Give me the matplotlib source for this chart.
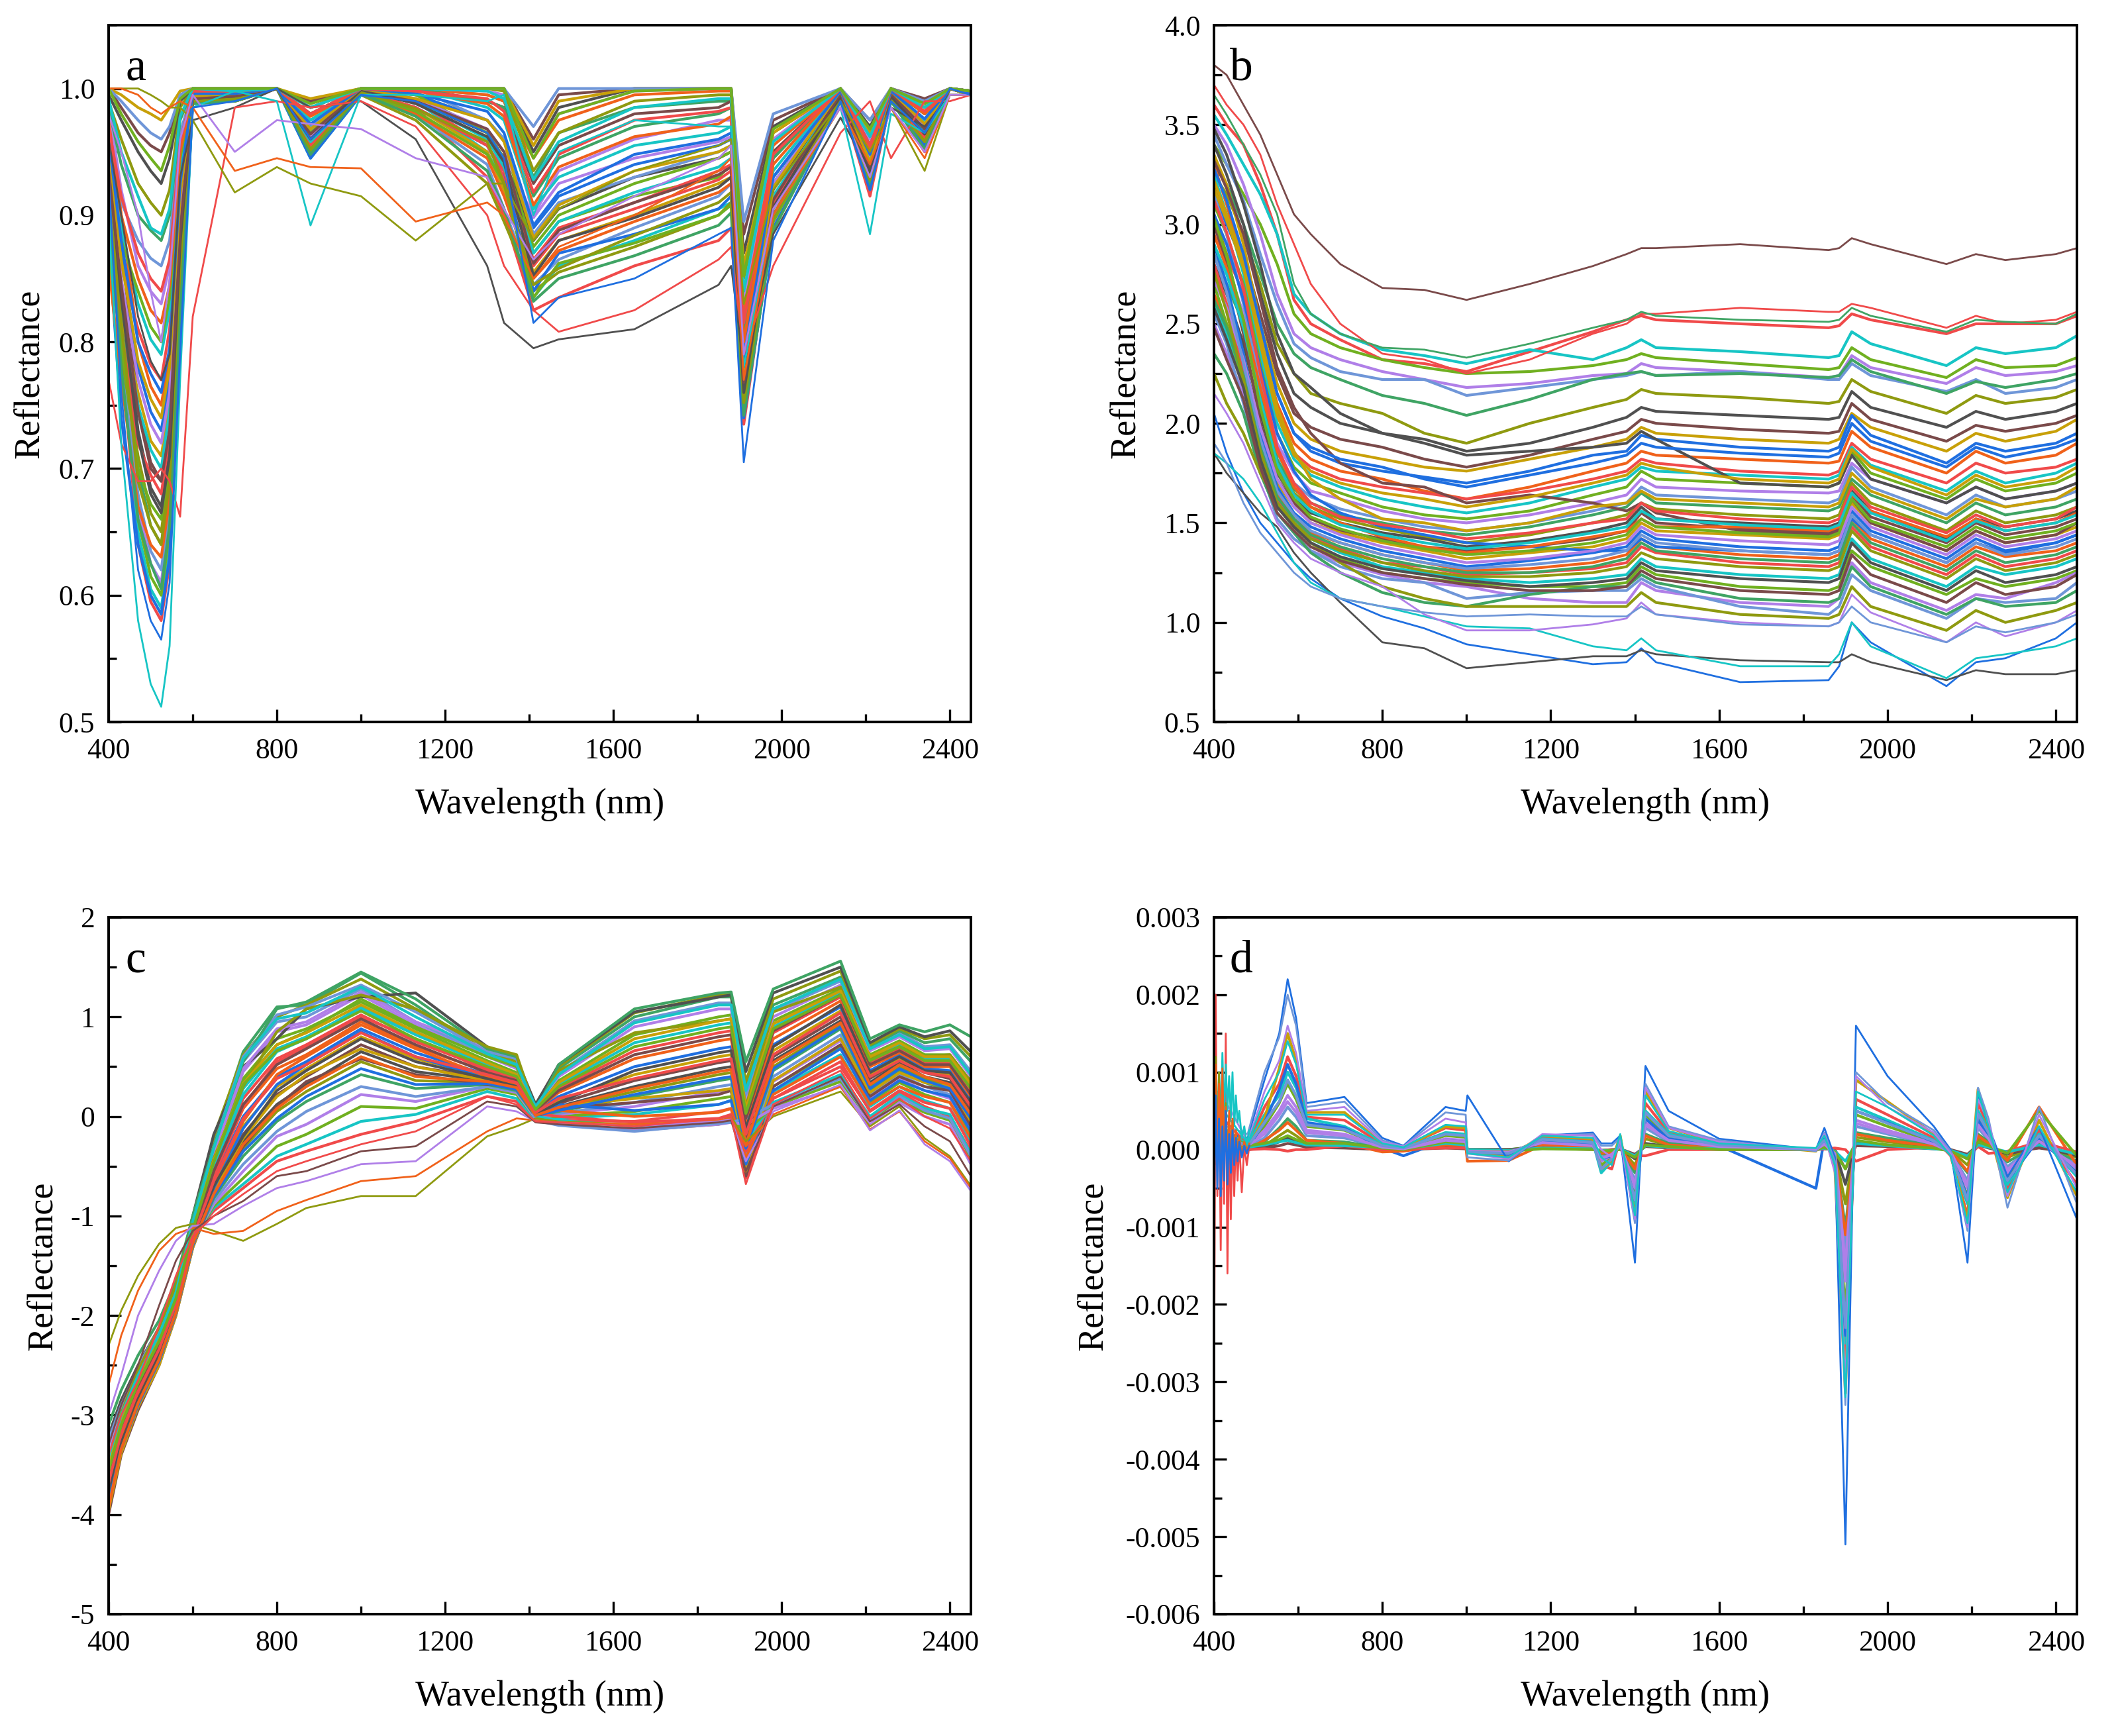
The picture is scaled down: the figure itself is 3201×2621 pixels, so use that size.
import matplotlib
matplotlib.use("Agg")
import matplotlib.pyplot as plt
import numpy as np
from matplotlib.ticker import MultipleLocator, FormatStrFormatter

plt.rcParams['font.family'] = ['Liberation Serif', 'DejaVu Serif']
plt.rcParams['axes.unicode_minus'] = False

colors = ['#505050', '#f04a4a', '#3fa464', '#1f6fe0', '#b07fe8', '#7a4a4a',
          '#17c5c5', '#8f9a10', '#f0611a', '#6f96d8', '#c8a008', '#70b020']

# panel a, reflectance x1000
wl_a = [400,430,470,500,525,545,570,600,700,800,880,1000,1130,1300,1340,1410,1470,1650,1850,1880,1910,1980,2140,2210,2260,2340,2400,2450]
refl_a = [
[960,900,820,785,770,790,930,975,985,1000,985,990,960,860,815,795,802,810,845,860,780,885,977,935,985,970,995,995],
[770,720,690,690,700,690,662,820,985,990,985,990,970,900,860,825,808,825,865,875,790,860,965,990,945,990,990,995],
[900,720,580,530,512,560,770,985,998,990,892,995,995,990,995,900,950,975,970,970,780,900,985,885,980,965,995,995],
[1000,1000,1000,995,990,985,985,975,918,938,925,915,880,925,925,880,905,935,955,960,830,920,990,950,985,935,995,995],
[1000,1000,995,985,980,985,990,985,935,945,938,937,895,910,900,850,875,900,935,945,770,900,985,940,985,945,995,995],
[980,950,900,840,800,850,960,995,950,975,972,968,945,930,905,865,885,915,945,955,790,905,985,930,985,950,995,995],
[930,760,620,580,565,610,790,985,990,1000,960,995,990,965,945,815,835,850,885,890,705,880,990,920,990,965,1000,995],
[950,790,640,595,580,625,800,990,992,1000,950,998,985,930,900,825,835,860,880,890,735,895,992,915,992,950,1000,995],
[920,800,650,605,590,635,815,990,990,1000,945,995,990,950,925,835,860,880,905,910,750,900,995,930,995,960,1000,995],
[940,810,660,615,600,650,825,992,995,1000,960,1000,995,975,960,870,895,915,930,940,770,925,998,940,998,970,1000,998],
[970,830,670,625,610,660,835,995,995,1000,970,1000,1000,990,985,900,935,960,975,975,790,930,1000,950,1000,975,1000,998],
[900,780,680,635,620,670,845,990,990,1000,955,998,980,940,905,845,865,890,915,925,760,905,995,935,995,965,1000,996],
[960,840,700,655,640,690,860,995,995,1000,975,1000,1000,995,990,930,965,985,990,990,800,945,1000,955,1000,980,1000,998],
[910,790,710,665,650,700,870,990,990,1000,950,995,975,925,895,840,855,875,900,910,745,900,992,925,992,955,1000,995],
[950,850,730,685,670,715,880,992,995,1000,965,1000,990,965,945,880,905,930,945,950,780,920,998,945,998,970,1000,998],
[980,880,750,705,690,735,895,995,995,1000,980,1000,1000,990,985,925,955,980,985,990,810,950,1000,955,1000,980,1000,998],
[920,820,760,722,710,750,900,990,990,1000,955,998,985,950,920,855,880,900,925,930,765,910,995,935,995,960,1000,996],
[960,870,780,745,730,770,910,995,995,1000,970,1000,995,975,960,890,915,940,955,960,785,930,998,945,998,975,1000,998],
[990,900,800,765,750,790,920,995,998,1000,985,1000,1000,995,990,945,975,995,998,998,825,955,1000,960,1000,985,1000,998],
[940,860,810,782,770,810,930,995,995,1000,960,1000,990,955,930,865,890,910,935,940,770,915,995,940,995,965,1000,996],
[970,890,830,802,790,825,940,998,998,1000,975,1000,1000,985,975,905,930,955,965,970,795,935,1000,950,1000,975,1000,998],
[950,880,840,812,800,835,945,998,995,1000,965,1000,995,965,945,875,900,925,945,950,780,925,998,945,998,970,1000,998],
[985,920,860,840,830,860,955,998,998,1000,985,1000,1000,998,995,950,980,998,1000,1000,835,960,1000,960,1000,985,1000,998],
[965,910,880,866,860,880,965,998,998,1000,970,1000,1000,975,960,885,910,930,950,955,785,925,998,945,998,972,1000,998],
[985,940,900,888,880,900,975,1000,998,1000,980,1000,1000,990,985,915,945,970,980,985,810,945,1000,955,1000,980,1000,998],
[990,960,925,910,900,920,985,1000,998,1000,985,1000,1000,1000,998,935,965,990,995,995,850,965,1000,965,1000,985,1000,998],
[995,975,950,935,925,945,990,1000,1000,1000,990,1000,1000,1000,1000,950,985,1000,1000,1000,870,970,1000,970,1000,990,1000,998],
[1000,985,965,955,950,965,995,1000,1000,1000,990,1000,1000,1000,1000,960,995,1000,1000,1000,885,975,1000,975,1000,992,1000,998],
[1000,995,985,980,975,985,998,1000,1000,1000,992,1000,1000,1000,1000,955,990,1000,1000,1000,860,965,1000,965,1000,985,1000,998],
[880,740,640,600,585,630,805,988,990,1000,945,995,985,955,935,840,870,885,905,915,740,890,990,920,990,955,1000,995],
[860,770,670,640,630,675,850,990,990,1000,950,996,980,945,915,850,872,895,918,925,755,900,992,930,992,960,1000,995],
[890,810,720,695,680,725,885,990,992,1000,955,998,985,955,935,860,885,905,928,935,765,908,994,935,994,962,1000,995],
[900,830,750,715,700,745,895,992,992,1000,958,998,990,960,938,870,895,918,938,945,772,915,996,940,996,966,1000,996],
[870,800,700,672,660,705,875,990,990,1000,950,996,982,948,925,835,862,878,900,908,748,895,990,925,990,958,1000,995],
[930,850,770,735,720,760,905,992,995,1000,962,1000,992,968,950,898,925,945,958,962,775,925,997,945,997,970,1000,997],
[1000,990,975,965,960,970,995,1000,1000,1000,985,1000,1000,1000,1000,970,1000,1000,1000,1000,895,980,1000,975,1000,990,1000,998],
[910,780,660,625,605,655,830,988,990,1000,948,996,978,935,905,832,850,868,892,902,742,888,990,922,990,952,1000,995],
[925,815,690,655,640,690,860,990,992,1000,952,997,984,958,925,845,858,884,910,918,752,898,992,928,992,958,1000,995],
[945,835,725,680,665,710,878,992,994,1000,960,999,988,962,942,852,880,898,922,930,760,906,994,934,994,964,1000,996],
[935,845,745,700,690,730,888,992,994,1000,964,1000,990,968,950,862,888,910,932,938,768,912,996,938,996,968,1000,996],
[955,865,785,755,740,780,915,994,996,1000,968,1000,992,975,958,882,908,935,950,955,778,922,998,942,998,972,1000,997],
[960,880,800,775,760,795,925,996,996,1000,972,1000,996,982,965,892,918,948,960,965,788,930,998,948,998,976,1000,997],
[975,900,850,825,815,845,950,998,998,1000,978,1000,998,988,978,908,938,962,972,978,800,940,1000,952,1000,980,1000,998],
[970,915,870,850,840,865,958,998,998,1000,980,1000,998,992,982,918,948,975,982,985,815,948,1000,955,1000,982,1000,998],
[992,950,915,890,885,905,978,1000,998,1000,985,1000,1000,998,992,928,958,985,992,992,840,958,1000,962,1000,985,1000,998],
[1000,980,958,945,935,955,992,1000,1000,1000,988,1000,1000,1000,1000,945,980,998,1000,1000,852,968,1000,968,1000,988,1000,998],
]

# panel b, x100
wl_b = [400,430,470,510,550,590,630,700,800,900,1000,1150,1300,1380,1415,1450,1650,1860,1885,1915,1960,2140,2210,2280,2400,2450]
refl_b = [
[380,375,360,345,325,305,295,280,268,267,262,270,279,285,288,288,290,287,288,293,290,280,285,282,285,288],
[370,360,350,335,310,290,270,250,235,232,225,232,245,250,255,255,258,256,256,260,258,248,254,250,252,256],
[365,355,340,325,305,270,255,245,238,237,233,240,248,252,256,254,252,251,252,258,254,246,252,251,250,255],
[205,185,165,150,140,130,122,112,103,97,89,84,79,80,87,80,70,71,78,100,90,68,80,82,92,100],
[185,175,165,155,148,135,125,110,90,87,77,80,83,83,86,84,81,80,80,84,80,71,76,74,74,76],
[185,180,172,160,145,130,120,112,108,103,98,97,88,86,92,86,78,78,84,100,88,72,82,84,88,92],
[215,205,190,170,150,140,132,125,118,104,96,96,99,102,110,104,100,98,100,114,105,90,100,93,100,106],
[190,180,160,145,135,125,118,112,108,105,103,104,103,103,108,104,99,98,100,108,100,90,98,95,100,104],
[360,350,340,320,295,262,250,242,232,230,226,236,246,252,254,252,250,248,249,255,252,245,250,250,250,254],
[355,345,330,315,295,265,255,245,237,234,230,237,232,238,242,238,236,233,234,246,240,229,238,235,238,244],
[340,330,315,300,280,255,245,238,232,228,225,226,229,232,235,233,230,227,228,238,232,223,232,228,229,233],
[350,340,320,295,265,245,238,232,226,222,218,220,224,225,230,228,226,223,224,234,228,220,228,224,226,229],
[345,330,312,285,260,240,233,226,222,222,214,218,222,224,226,224,226,222,222,230,224,216,222,215,218,222],
[330,320,300,275,250,235,228,222,214,210,204,212,222,225,226,224,225,223,224,232,226,215,221,218,222,225],
[325,315,295,270,240,225,215,210,205,195,190,200,208,212,217,215,213,210,211,222,216,205,214,210,213,217],
[340,325,300,265,235,215,208,200,195,192,186,190,198,203,208,206,204,202,203,216,208,198,206,202,206,210],
[320,305,285,255,225,205,198,192,188,182,178,184,192,196,202,200,197,195,196,210,202,191,199,196,200,204],
[335,320,290,250,220,200,192,186,182,178,176,182,188,192,198,195,192,190,192,205,198,186,195,191,196,202],
[315,300,280,245,215,195,186,180,176,173,170,176,184,186,194,192,188,186,188,204,194,180,190,186,190,195],
[330,310,280,240,210,190,182,176,172,166,162,168,176,180,186,184,182,180,181,196,188,175,186,180,184,190],
[300,285,265,235,205,185,178,172,168,165,162,166,172,176,182,180,176,174,176,190,182,170,180,175,178,182],
[325,305,275,235,200,182,174,168,162,158,155,160,168,172,178,176,174,172,174,188,179,166,176,170,175,180],
[310,295,270,230,195,178,170,165,158,154,152,156,164,168,176,172,170,168,170,186,175,162,172,166,170,175],
[295,280,255,225,190,175,166,162,156,152,150,154,160,164,172,168,166,165,166,180,172,160,168,162,166,170],
[315,295,260,220,185,170,163,157,152,148,146,150,156,160,168,164,162,160,162,178,168,154,164,158,162,166],
[285,270,250,215,182,167,160,154,150,146,144,148,154,158,165,160,158,156,158,172,164,150,160,154,158,162],
[305,285,250,210,178,165,158,152,147,143,140,144,150,154,160,157,154,152,154,170,160,146,156,150,154,158],
[280,265,240,205,175,162,155,150,145,142,138,141,146,150,158,152,150,148,150,166,156,142,152,148,152,156],
[300,280,245,200,172,160,152,146,142,138,136,138,142,146,155,150,147,145,147,164,153,140,150,144,148,152],
[275,260,235,195,170,158,150,145,140,136,132,135,138,142,150,146,144,142,144,160,150,136,146,140,144,148],
[290,270,235,195,168,155,148,142,136,132,128,131,135,138,146,142,138,136,138,156,146,132,142,136,140,144],
[265,250,225,190,165,152,145,140,134,130,126,127,130,134,142,138,134,132,134,152,142,128,138,133,136,140],
[280,260,225,188,162,150,143,137,130,128,124,125,127,130,138,135,130,128,130,148,138,124,134,128,132,136],
[260,245,220,185,160,150,142,135,128,125,122,120,122,124,132,128,124,122,124,142,132,118,128,124,128,132],
[270,250,220,180,158,148,140,132,125,122,120,118,118,120,128,124,118,116,118,136,128,114,122,118,122,126],
[250,235,215,175,155,145,136,130,124,120,118,112,110,110,120,116,110,108,112,130,120,106,114,112,120,125],
[255,240,210,178,152,142,136,128,122,120,112,115,116,116,122,118,108,104,108,124,116,102,112,110,112,120],
[235,225,205,175,155,145,135,125,115,110,108,114,118,118,124,120,112,110,112,128,118,104,112,108,110,116],
[225,210,195,175,160,150,140,130,118,112,108,108,108,108,115,110,104,102,104,118,108,96,106,100,106,110],
[348,335,310,280,245,225,218,205,195,190,184,186,188,190,196,192,170,168,170,184,172,160,168,162,166,170],
[332,318,295,262,228,208,195,180,170,168,160,164,160,156,160,155,146,144,146,162,150,136,146,140,144,150],
[322,305,282,245,208,186,172,162,152,150,146,150,158,160,166,162,160,158,160,175,166,152,162,158,162,168],
[305,290,262,228,195,176,164,155,148,144,140,138,136,136,142,138,136,134,136,152,144,130,140,135,140,144],
[295,278,252,218,186,168,158,150,143,138,135,138,143,146,152,148,148,146,148,164,156,143,152,146,150,155],
[312,296,268,225,188,170,160,153,149,146,142,145,150,152,160,156,152,150,152,168,158,145,154,148,152,158],
[290,275,248,212,180,164,156,149,144,140,137,140,145,148,156,152,149,147,149,165,155,141,151,146,150,154],
[303,284,252,208,176,162,153,147,141,137,134,136,140,144,152,148,145,143,145,162,151,138,148,142,146,150],
[272,258,232,198,172,158,150,144,138,134,130,132,136,140,148,144,141,139,141,158,148,134,144,138,142,146],
[285,266,230,192,166,154,146,140,134,130,127,129,132,136,144,140,136,134,136,154,144,130,140,134,138,142],
[262,248,224,188,163,152,144,138,132,128,125,125,128,132,140,136,132,130,132,150,140,126,136,130,134,138],
[276,256,222,186,160,150,142,136,130,126,123,123,125,128,135,132,128,126,128,146,136,122,132,126,130,134],
[258,242,218,182,158,148,140,133,127,124,121,118,120,122,130,126,122,120,122,140,130,116,126,120,124,128],
[248,232,212,178,155,146,138,131,125,122,119,116,116,118,126,122,116,114,116,134,124,110,120,114,118,124],
[318,302,278,240,204,184,176,170,165,162,158,163,170,174,180,178,172,170,172,187,178,164,174,168,172,178],
[328,312,285,250,215,195,188,182,178,172,168,174,180,184,190,188,185,183,185,200,191,178,188,183,188,192],
]

# panel c, x100
wl_c = [400,430,470,520,560,600,650,720,800,870,1000,1130,1300,1370,1415,1470,1650,1850,1880,1915,1980,2140,2210,2280,2340,2400,2450]
refl_c = [
[-230,-195,-160,-128,-112,-108,-115,-125,-108,-92,-80,-80,-20,-10,-2,-5,-8,-5,0,-25,0,25,-10,10,-22,-40,-70],
[-270,-220,-175,-135,-118,-112,-118,-115,-95,-84,-65,-60,-15,-2,-4,-6,-8,-4,-2,-30,2,30,-13,5,-25,-42,-72],
[-300,-260,-200,-155,-125,-110,-108,-90,-72,-65,-48,-45,10,5,-5,-6,-10,-5,-3,-45,5,32,-14,6,-28,-45,-75],
[-330,-290,-250,-190,-145,-115,-100,-85,-60,-55,-35,-30,15,10,-6,-8,-12,-6,-4,-55,10,40,-5,12,-10,-25,-60],
[-340,-300,-265,-210,-160,-120,-100,-78,-55,-45,-28,-15,20,12,-5,-6,-10,-2,0,-68,12,46,-2,18,0,-12,-45],
[-350,-310,-275,-225,-170,-120,-95,-72,-45,-35,-18,-5,20,15,-4,-4,-5,5,8,-62,18,55,5,24,10,0,-35],
[-360,-315,-280,-235,-180,-122,-92,-68,-40,-28,-5,2,25,18,-3,-2,2,12,16,-58,25,62,10,30,16,8,-25],
[-370,-320,-285,-240,-185,-125,-90,-62,-30,-18,10,8,28,22,-2,0,5,18,20,-50,30,70,14,34,22,14,-18],
[-380,-325,-290,-245,-190,-125,-88,-55,-20,-8,22,15,30,24,-2,2,10,25,26,-45,35,76,18,38,26,18,-12],
[-385,-330,-290,-245,-195,-128,-85,-48,-15,5,30,20,30,25,-1,3,14,30,32,-40,40,82,22,42,30,22,-8],
[-390,-335,-290,-245,-195,-130,-82,-40,-5,15,42,28,32,26,0,5,20,36,38,-35,46,88,26,46,34,26,-4],
[-395,-335,-288,-245,-198,-130,-80,-32,5,25,55,36,34,28,0,8,25,42,44,-30,50,92,30,50,38,30,0],
[-390,-330,-285,-242,-198,-128,-76,-25,12,32,65,45,36,30,2,10,30,48,50,-25,56,96,34,54,40,34,4],
[-385,-330,-282,-240,-196,-128,-72,-18,22,40,72,50,38,32,3,13,36,54,56,-20,60,100,38,56,44,38,8],
[-380,-325,-280,-238,-195,-125,-68,-10,30,48,80,58,40,33,4,16,42,60,62,-16,66,106,42,58,46,42,12],
[-375,-320,-278,-236,-192,-122,-62,0,40,55,88,64,42,34,5,20,50,68,70,-10,72,110,46,62,48,46,16],
[-370,-320,-275,-232,-190,-120,-58,8,48,62,95,70,45,36,6,24,58,76,78,-5,78,116,50,64,50,50,20],
[-365,-315,-272,-230,-188,-118,-52,18,58,72,102,75,48,38,7,28,66,84,86,0,84,120,54,68,54,54,25],
[-360,-312,-270,-228,-185,-115,-48,28,68,80,108,82,52,40,8,32,74,92,94,5,90,124,58,72,58,58,30],
[-350,-308,-268,-225,-182,-112,-42,38,78,88,115,88,56,44,9,36,82,100,102,10,96,128,62,76,62,62,35],
[-345,-305,-265,-222,-180,-110,-38,45,85,92,122,92,60,48,10,40,90,108,108,16,100,132,66,80,66,68,40],
[-340,-300,-262,-220,-178,-108,-30,55,95,100,128,95,62,50,10,44,96,114,114,22,106,136,68,84,70,72,45],
[-335,-295,-258,-218,-175,-105,-25,65,110,112,144,112,64,52,10,48,100,120,120,30,112,140,70,86,74,78,55],
[-330,-290,-255,-215,-172,-102,-20,62,100,112,138,108,66,55,12,50,104,122,122,35,118,146,72,88,78,82,60],
[-320,-285,-250,-212,-170,-100,-18,50,78,108,120,124,70,58,12,52,105,120,122,45,124,150,74,90,80,86,65],
[-400,-340,-295,-250,-200,-132,-78,-30,10,35,58,42,32,30,0,8,14,22,26,-60,30,72,20,40,30,26,-10],
[-395,-338,-292,-250,-200,-132,-75,-22,20,42,68,50,36,30,1,10,18,26,28,-55,36,78,24,44,34,30,-5],
[-385,-332,-288,-246,-198,-130,-72,-12,32,52,85,60,38,32,3,12,6,12,16,-48,26,68,16,36,26,20,-15],
[-375,-325,-282,-240,-194,-125,-66,-5,42,60,92,68,40,33,4,6,0,4,8,-42,22,60,12,30,20,14,-22],
[-365,-318,-275,-232,-190,-120,-60,10,55,70,100,78,46,38,3,0,-6,-2,2,-35,18,50,6,26,14,8,-30],
[-355,-310,-268,-226,-184,-116,-52,22,65,78,110,85,52,42,0,-4,-10,-5,-2,-25,14,42,0,22,8,2,-38],
[-345,-302,-262,-220,-180,-112,-45,35,72,85,118,90,60,50,-2,-6,-14,-8,-4,-15,10,35,-4,16,4,-4,-42],
[-335,-296,-256,-216,-176,-108,-38,48,88,95,125,95,68,58,-4,-8,-14,-8,-6,-8,8,30,-8,14,0,-8,-48],
[-325,-290,-252,-212,-172,-104,-30,60,102,110,132,105,65,58,-4,-9,-15,-7,-6,-2,12,38,-4,20,6,-2,-40],
[-310,-275,-240,-205,-165,-100,-30,55,108,115,145,118,68,60,5,52,108,124,125,55,128,156,78,92,85,92,80],
[-345,-298,-255,-212,-170,-106,-42,30,85,108,122,108,70,62,6,46,84,96,98,10,105,130,58,70,60,62,35],
[-378,-328,-284,-240,-192,-126,-70,-20,26,46,78,55,38,30,2,14,46,64,66,-12,70,112,44,60,46,44,14],
[-362,-316,-272,-230,-186,-118,-55,12,52,68,98,72,44,36,6,26,62,80,82,-2,86,122,52,66,52,52,22],
[-352,-306,-266,-224,-181,-111,-44,33,72,84,112,85,54,42,8,34,78,96,98,8,93,126,60,74,60,60,32],
[-388,-334,-290,-245,-196,-129,-80,-35,-2,20,48,32,33,27,1,6,22,38,40,-32,48,90,28,48,36,28,-2],
[-392,-334,-288,-244,-197,-128,-78,-28,8,30,60,40,35,29,1,9,28,45,47,-28,54,94,32,52,40,32,2],
[-368,-318,-276,-234,-188,-122,-65,-2,38,52,84,60,42,34,4,18,38,56,58,-18,62,104,40,56,44,40,10],
[-342,-300,-260,-219,-177,-106,-32,58,98,104,130,100,63,52,10,42,94,112,112,26,108,138,68,82,68,70,42],
[-356,-310,-268,-226,-183,-114,-46,32,66,78,106,78,50,40,7,30,70,88,90,3,88,122,56,70,56,56,28],
]

# panel d, x100000
wl_d = [400,430,480,520,555,575,595,620,710,800,850,950,998,1002,1100,1180,1300,1320,1345,1365,1400,1425,1480,1600,1830,1850,1875,1900,1925,2000,2110,2150,2190,2215,2240,2285,2360,2450]
refl_d = [
[40,20,15,90,150,220,170,60,68,15,5,55,50,70,-15,18,22,8,8,18,-146,108,50,14,0,28,-10,-510,160,95,30,0,-146,70,30,-35,30,-90],
[30,30,20,100,145,200,160,55,62,12,4,48,45,-10,-14,18,20,5,5,15,-95,85,30,12,-2,22,-15,-330,100,60,25,-2,-105,80,40,-75,55,-70],
[80,60,10,75,115,160,125,50,55,10,4,40,35,-5,-12,20,18,0,-10,12,-90,80,28,10,0,20,-30,-300,95,55,22,-5,-100,65,35,-60,45,-50],
[60,45,8,65,100,140,110,45,45,8,3,32,30,-5,-10,18,15,-10,-20,20,-85,70,24,8,2,18,-20,-320,75,55,18,-8,-95,75,30,-55,30,-55],
[50,35,6,55,85,120,95,42,38,7,3,28,25,-4,-8,16,12,-20,-25,15,-80,60,22,7,0,15,-12,-280,65,45,15,-8,-85,60,28,-50,25,-45],
[40,25,6,45,70,100,80,40,30,6,2,22,20,-3,-6,14,10,-30,-15,10,-70,50,20,6,0,14,-10,-250,55,38,12,-6,-70,50,25,-45,20,-35],
[30,20,5,30,60,85,65,30,25,4,2,18,16,-2,-4,12,8,-20,-10,8,-60,45,16,5,0,10,-8,-210,45,30,10,-5,-60,42,20,-35,15,-30],
[20,15,4,25,50,70,55,25,20,4,1,14,12,-2,-3,10,6,-15,-8,6,-50,35,14,4,0,8,-6,-170,38,25,8,-4,-50,35,16,-30,12,-25],
[10,10,3,15,38,55,42,18,15,3,1,10,9,-1,-2,8,4,-10,-5,5,-40,28,10,3,0,6,-5,-130,30,20,6,-3,-40,28,12,-22,10,-20],
[0,5,2,10,28,40,30,12,10,2,0,7,6,0,0,5,3,-6,-4,3,-30,20,8,2,0,5,-4,-100,22,15,5,-2,-30,20,10,-16,8,-15],
[-10,0,2,5,18,25,18,8,6,1,0,5,4,0,0,4,2,-4,-2,2,-20,14,5,2,0,4,-2,-70,16,10,4,-1,-20,14,6,-10,6,-10],
[-20,5,0,3,10,15,10,5,4,0,0,3,2,0,0,3,1,-2,-1,1,-12,8,4,1,0,2,-1,-45,10,6,2,0,-12,10,4,-6,4,-8],
[5,0,0,2,5,8,6,3,2,0,0,2,1,0,0,2,1,-1,0,1,-6,4,2,1,0,1,0,-25,5,4,1,0,-6,6,2,-4,2,-5],
[20,10,2,40,105,150,115,48,48,8,3,30,28,-4,-10,18,14,-25,-15,18,-88,75,28,9,-2,20,-25,-315,90,62,20,-6,-92,78,28,-62,38,-60],
[15,8,2,35,78,110,85,35,28,2,-8,12,10,-2,-6,12,8,-12,-8,8,-65,40,14,5,-50,15,-8,-240,50,35,10,-4,-62,38,18,-40,14,-30],
[-5,3,1,12,25,35,25,12,8,-3,-2,6,5,-15,-14,6,2,-5,-3,2,-25,18,6,2,0,4,-5,-110,20,12,4,-2,-28,18,8,-14,55,-20],
[0,2,0,1,0,-2,0,0,5,0,1,2,2,0,-2,2,0,-1,0,0,-8,-8,0,0,0,1,2,0,-15,0,3,-1,-10,4,-5,-2,10,-3],
[8,5,3,6,10,12,9,6,5,3,1,8,6,0,-1,2,1,-1,-1,1,-8,5,3,1,0,2,-2,-15,8,5,1,-1,-8,6,3,-3,6,-6],
[10,4,5,8,13,18,13,8,8,2,0,10,8,-2,-2,1,0,-2,-1,0,-10,6,4,0,0,3,-3,-25,12,6,2,-2,-12,10,5,-5,50,-8],
[15,12,5,20,45,62,48,22,18,3,1,12,10,-2,-3,9,5,-12,-6,5,-45,32,12,4,0,7,-5,-150,34,22,7,-3,-45,32,14,-26,11,-22],
[25,18,4,35,62,90,70,32,26,5,2,20,18,-3,-5,13,9,-25,-12,9,-65,48,18,6,0,12,-9,-230,50,34,11,-5,-65,46,22,-40,18,-32],
]
wl_d_noise = [400,404,408,412,416,420,424,428,432,436,440,444,448,452,456,460,466,472,478,484]
noise_red = [-340,200,-60,90,-130,60,-70,150,-160,40,-90,30,-60,20,-40,10,-55,5,-20,5]
noise_blue = [-90,70,-50,40,-60,30,-40,50,-45,20,-30,25,-20,15,-15,10,-10,5,-5,5]
noise_teal = [40,90,20,100,35,125,45,110,50,95,40,100,30,70,35,50,15,30,5,25]
noise_olive = [30,120,10,100,-10,70,5,60,-15,40,5,35,-5,20,0,12,-5,10,0,5]
noise_orange = [10,110,-20,85,-15,105,0,55,-30,50,-10,40,-10,25,-12,18,-8,10,-2,8]

# colour of the outlying curves, the rest just cycle
first_a = [0, 1, 6, 7, 8, 4, 3]
first_b = [5, 1, 2, 3, 0, 6, 4, 9]
first_c = [7, 8, 4, 5, 1]
first_d = [3, 9, 4, 6]

tick_font = 31.5
label_font = 39
panel_font = 50
W, H = 3201, 2621

# axes boxes in pixels: left, right, top, bottom
boxes = {'a': (164, 1466, 38, 1090), 'b': (1833, 3136, 38, 1090),
         'c': (164, 1466, 1385, 2437), 'd': (1833, 3136, 1385, 2437)}
ylims = {'a': (0.5, 1.05), 'b': (0.5, 4.0), 'c': (-5, 2), 'd': (-0.006, 0.003)}
ymajor = {'a': 0.1, 'b': 0.5, 'c': 1, 'd': 0.001}
yfmt = {'a': '%.1f', 'b': '%.1f', 'c': '%d', 'd': '%.3f'}
ylabx = {'a': 45, 'b': 1700, 'c': 65, 'd': 1651}
series = {'a': (wl_a, refl_a, 1000.0, first_a), 'b': (wl_b, refl_b, 100.0, first_b),
          'c': (wl_c, refl_c, 100.0, first_c), 'd': (wl_d, refl_d, 100000.0, first_d)}

fig = plt.figure(figsize=(W / 100, H / 100), dpi=100, facecolor='white')
for key in 'abcd':
    l, r, t, b = boxes[key]
    ax = fig.add_axes([l / W, 1 - b / H, (r - l) / W, (b - t) / H])
    wl, rows, scale, first = series[key]
    # bulk curves first and a bit heavier, outliers thin on top
    for i, row in enumerate(rows[len(first):]):
        ax.plot(wl, np.array(row) / scale, color=colors[(i * 5 + 1) % len(colors)], lw=3.0, solid_joinstyle='round')
    for i, row in enumerate(rows[:len(first)]):
        ax.plot(wl, np.array(row) / scale, color=colors[first[i]], lw=2.0, solid_joinstyle='round')
    if key == 'd':
        for yy, cc in [(noise_red, colors[1]), (noise_teal, colors[6]), (noise_olive, colors[7]),
                       (noise_orange, colors[8]), (noise_blue, colors[3])]:
            ax.plot(wl_d_noise, np.array(yy) / scale, color=cc, lw=2.0)
    ax.set_xlim(400, 2450)
    ax.set_ylim(*ylims[key])
    ax.xaxis.set_major_locator(MultipleLocator(400))
    ax.xaxis.set_minor_locator(MultipleLocator(200))
    ax.yaxis.set_major_locator(MultipleLocator(ymajor[key]))
    ax.yaxis.set_minor_locator(MultipleLocator(ymajor[key] / 2))
    ax.yaxis.set_major_formatter(FormatStrFormatter(yfmt[key]))
    ax.tick_params(which='major', direction='in', length=14, width=2.4, labelsize=tick_font, pad=15)
    ax.tick_params(which='minor', direction='in', length=8.5, width=2.4)
    ax.tick_params(axis='x', which='major', pad=17)
    for s in ax.spines.values():
        s.set_linewidth(2.8)
        s.set_zorder(10)
    ax.set_xlabel('Wavelength (nm)', fontsize=label_font, va='center')
    ax.xaxis.set_label_coords(0.5, -125 / (b - t))
    ax.set_ylabel('Reflectance', fontsize=label_font, va='center')
    ax.yaxis.set_label_coords((ylabx[key] - l) / (r - l), 0.5)
    ax.text(41 / (r - l), 1 - 66 / (b - t), key, fontsize=panel_font, ha='center', va='center', transform=ax.transAxes, zorder=12)

fig.savefig('out.png', dpi=100)
